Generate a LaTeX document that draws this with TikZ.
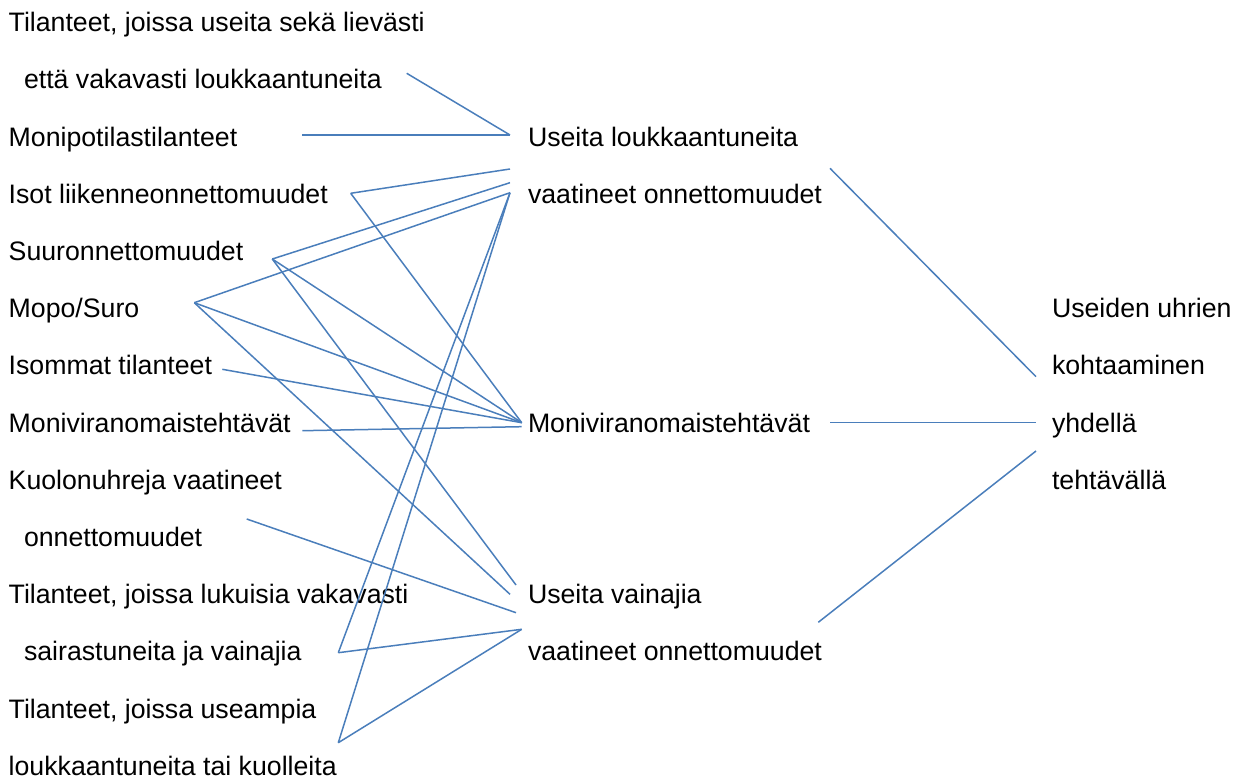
\documentclass[tikz,border=0pt]{standalone}
\usepackage{fontspec}
\setmainfont{Liberation Sans}
\definecolor{linkblue}{RGB}{74,126,187}
\begin{document}
\begin{tikzpicture}[x=1pt,y=-1pt,
  lbl/.style={anchor=base west,inner sep=0pt,outer sep=0pt,font=\fontsize{26.7}{30}\selectfont},
  link/.style={draw=linkblue,line width=1.5pt}]
\useasboundingbox (0,0) rectangle (1242,783);
% left column
\node[lbl] (l1)  at (8.7,31.7)  {Tilanteet, joissa useita sekä lievästi};
\node[lbl] (l2)  at (24,88.9)   {että vakavasti loukkaantuneita};
\node[lbl] (l3)  at (8.7,146.1) {Monipotilastilanteet};
\node[lbl] (l4)  at (8.7,203.3) {Isot liikenneonnettomuudet};
\node[lbl] (l5)  at (8.7,260.5) {Suuronnettomuudet};
\node[lbl] (l6)  at (8.7,317.7) {Mopo/Suro};
\node[lbl] (l7)  at (8.7,374.9) {Isommat tilanteet};
\node[lbl] (l8)  at (8.7,432.1) {Moniviranomaistehtävät};
\node[lbl] (l9)  at (8.7,489.3) {Kuolonuhreja vaatineet};
\node[lbl] (l10) at (24,546.5)  {onnettomuudet};
\node[lbl] (l11) at (8.7,603.7) {Tilanteet, joissa lukuisia vakavasti};
\node[lbl] (l12) at (24,660.9)  {sairastuneita ja vainajia};
\node[lbl] (l13) at (8.7,718.1) {Tilanteet, joissa useampia};
\node[lbl] (l14) at (8.7,775.3) {loukkaantuneita tai kuolleita};
% middle column
\node[lbl] (m1) at (528,146.1) {Useita loukkaantuneita};
\node[lbl] (m2) at (528,203.3) {vaatineet onnettomuudet};
\node[lbl] (m3) at (528,432.1) {Moniviranomaistehtävät};
\node[lbl] (m4) at (528,603.7) {Useita vainajia};
\node[lbl] (m5) at (528,660.9) {vaatineet onnettomuudet};
% right column
\node[lbl] (r1) at (1052,317.7) {Useiden uhrien};
\node[lbl] (r2) at (1052,374.9) {kohtaaminen};
\node[lbl] (r3) at (1052,432.1) {yhdellä};
\node[lbl] (r4) at (1052,489.3) {tehtävällä};
% connector end points
\coordinate (a2) at (406.7,73.3);
\coordinate (a3) at (302.3,135);
\coordinate (a4) at (350.7,193.3);
\coordinate (a5) at (272.3,259);
\coordinate (a6) at (194.3,302.7);
\coordinate (a7) at (222.3,369.3);
\coordinate (a8) at (302.3,430.7);
\coordinate (a9) at (246.7,519);
\coordinate (a12) at (338.3,652.7);
\coordinate (a14) at (338.3,742.7);
\coordinate (b1) at (510,135);
\coordinate (b2a) at (510,169);
\coordinate (b2b) at (510,182.7);
\coordinate (b2c) at (510,192.7);
\coordinate (b3) at (521.7,422.7);
\coordinate (b3b) at (521.7,426.7);
\coordinate (b4a) at (516,585);
\coordinate (b4b) at (510,594.3);
\coordinate (b4c) at (516,612.7);
\coordinate (b5) at (521.7,629.3);
\coordinate (c1) at (830,168.3);
\coordinate (c2) at (830,422.7);
\coordinate (c3) at (818.3,622.3);
\coordinate (d1) at (1036,376.7);
\coordinate (d2) at (1036,422.7);
\coordinate (d3) at (1036,451);
% connectors left -> middle
\draw[link] (a2) -- (b1);
\draw[link] (a3) -- (b1);
\draw[link] (a4) -- (b2a);
\draw[link] (a4) -- (b3);
\draw[link] (a5) -- (b2b);
\draw[link] (a5) -- (b3);
\draw[link] (a5) -- (b4a);
\draw[link] (a6) -- (b2c);
\draw[link] (a6) -- (b3);
\draw[link] (a6) -- (b4b);
\draw[link] (a7) -- (b3);
\draw[link] (a8) -- (b3b);
\draw[link] (a9) -- (b4c);
\draw[link] (a12) -- (b2c);
\draw[link] (a12) -- (b5);
\draw[link] (a14) -- (b2c);
\draw[link] (a14) -- (b5);
% connectors middle -> right
\draw[link] (c1) -- (d1);
\draw[link] (c2) -- (d2);
\draw[link] (c3) -- (d3);
\end{tikzpicture}
\end{document}
